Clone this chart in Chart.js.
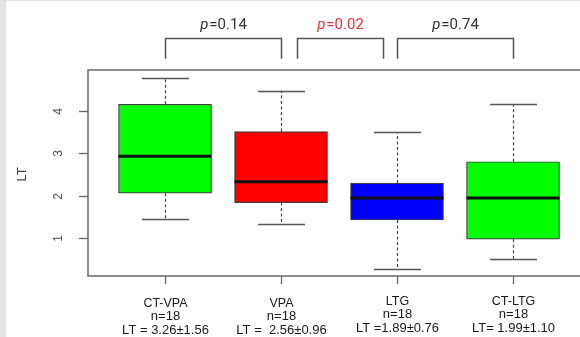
<!DOCTYPE html>
<html>
<head>
<meta charset="utf-8">
<script src="https://cdn.jsdelivr.net/npm/chart.js@4.4.1/dist/chart.umd.min.js"></script>
<style>
html,body{margin:0;padding:0;overflow:hidden;background:#fff;width:580px;height:337px;}
#wrap{position:relative;width:600px;height:337px;}
</style>
</head>
<body>
<div id="wrap"><canvas id="c" width="600" height="337"></canvas></div>
<script>
// ---- data ----
const categories = ['CT-VPA', 'VPA', 'LTG', 'CT-LTG'];
const nLabels = ['n=18', 'n=18', 'n=18', 'n=18'];
const ltLabels = ['LT = 3.26±1.56', 'LT =  2.56±0.96', 'LT =1.89±0.76', 'LT= 1.99±1.10'];
const whiskerLow = [1.45, 1.34, 0.29, 0.51];
const q1 = [2.06, 1.84, 1.43, 0.98];
const median = [2.93, 2.33, 1.95, 1.95];
const q3 = [4.15, 3.51, 2.30, 2.80];
const whiskerHigh = [4.76, 4.47, 3.49, 4.16];
const boxColors = ['#00ff00', '#ff0000', '#0000ff', '#00ff00'];
const yTicks = [1, 2, 3, 4];
const yTitle = 'LT';
const pValues = ['0.14', '0.02', '0.74'];
const pSignificant = [false, true, false];

const positions = categories.map((c, i) => i + 1);

// brackets (x spans in category units)
const bracketSpans = [[1, 2], [2.14, 2.88], [3, 4]];

const overlay = {
  id: 'overlay',
  beforeDraw(chart) {
    const ctx = chart.ctx;
    ctx.save();
    ctx.fillStyle = '#ffffff';
    ctx.fillRect(0, 0, chart.width, chart.height);
    ctx.fillStyle = '#e4e4e4';
    ctx.fillRect(0, 0, 6, chart.height);
    ctx.fillRect(0, 0, chart.width, 1);
    ctx.restore();
  },
  beforeDatasetsDraw(chart) {
    const ctx = chart.ctx, xs = chart.scales.x, ys = chart.scales.y;
    ctx.save();
    positions.forEach((p, i) => {
      const x = Math.round(xs.getPixelForValue(p)) + 0.5;
      ctx.strokeStyle = '#444';
      ctx.lineWidth = 1.2;
      ctx.setLineDash([3, 2.5]);
      ctx.beginPath();
      ctx.moveTo(x, ys.getPixelForValue(q3[i]));
      ctx.lineTo(x, ys.getPixelForValue(whiskerHigh[i]));
      ctx.moveTo(x, ys.getPixelForValue(q1[i]));
      ctx.lineTo(x, ys.getPixelForValue(whiskerLow[i]));
      ctx.stroke();
      ctx.setLineDash([]);
      ctx.strokeStyle = '#555';
      ctx.lineWidth = 1.5;
      const half = 23.5;
      ctx.beginPath();
      [whiskerHigh[i], whiskerLow[i]].forEach(v => {
        const y = Math.round(ys.getPixelForValue(v)) + 0.5;
        ctx.moveTo(x - half, y);
        ctx.lineTo(x + half, y);
      });
      ctx.stroke();
    });
    ctx.restore();
  },
  afterDatasetsDraw(chart) {
    const ctx = chart.ctx, xs = chart.scales.x, ys = chart.scales.y;
    const a = chart.chartArea;
    ctx.save();
    // medians
    ctx.strokeStyle = '#111';
    ctx.lineWidth = 3;
    positions.forEach((p, i) => {
      const x = xs.getPixelForValue(p);
      const y = ys.getPixelForValue(median[i]);
      ctx.beginPath();
      ctx.moveTo(x - 46.5, y);
      ctx.lineTo(x + 46.5, y);
      ctx.stroke();
    });
    // frame
    ctx.strokeStyle = '#6a6a6a';
    ctx.lineWidth = 1.5;
    ctx.strokeRect(a.left, a.top, a.right - a.left, a.bottom - a.top);
    // y ticks
    ctx.lineWidth = 1.3;
    ctx.strokeStyle = '#666';
    ctx.fillStyle = '#555';
    ctx.font = '12px "Liberation Sans", Arial, sans-serif';
    ctx.textAlign = 'center';
    ctx.textBaseline = 'middle';
    yTicks.forEach(t => {
      const y = Math.round(ys.getPixelForValue(t)) + 0.5;
      ctx.beginPath();
      ctx.moveTo(a.left, y);
      ctx.lineTo(a.left - 9, y);
      ctx.stroke();
      ctx.save();
      ctx.translate(59, y);
      ctx.rotate(-Math.PI / 2);
      ctx.fillText(String(t), 0, 0);
      ctx.restore();
    });
    // y title
    ctx.save();
    ctx.fillStyle = '#444';
    ctx.font = '13px "Liberation Sans", Arial, sans-serif';
    ctx.translate(22, (ys.getPixelForValue(2) + ys.getPixelForValue(3)) / 2);
    ctx.rotate(-Math.PI / 2);
    ctx.fillText(yTitle, 0, 0);
    ctx.restore();
    // x ticks + labels
    ctx.fillStyle = '#1a1a1a';
    positions.forEach((p, i) => {
      const x = Math.round(xs.getPixelForValue(p)) + 0.5;
      ctx.strokeStyle = '#666';
      ctx.beginPath();
      ctx.moveTo(x, a.bottom);
      ctx.lineTo(x, a.bottom + 8);
      ctx.stroke();
      const dy = i >= 2 ? -2 : 0;
      ctx.font = '12.5px "Liberation Sans", Arial, sans-serif';
      ctx.fillText(categories[i], x, 304 + dy);
      ctx.font = '13px "Liberation Sans", Arial, sans-serif';
      ctx.fillText(nLabels[i], x, 316 + dy);
      ctx.font = '13px "Liberation Sans", Arial, sans-serif';
      ctx.fillText(ltLabels[i], x, 330 + dy);
    });
    // brackets
    const yTop = Math.round(ys.getPixelForValue(5.70)) + 0.5;
    const yLeg = ys.getPixelForValue(5.22);
    bracketSpans.forEach((s, i) => {
      const x0 = Math.round(xs.getPixelForValue(s[0])) + 0.5;
      const x1 = Math.round(xs.getPixelForValue(s[1])) + 0.5;
      ctx.strokeStyle = '#555';
      ctx.lineWidth = 1.5;
      ctx.beginPath();
      ctx.moveTo(x0, yLeg);
      ctx.lineTo(x0, yTop);
      ctx.lineTo(x1, yTop);
      ctx.lineTo(x1, yLeg);
      ctx.stroke();
      const col = pSignificant[i] ? '#e0313f' : '#333';
      ctx.fillStyle = col;
      ctx.textBaseline = 'alphabetic';
      ctx.font = 'italic 15px Roboto, "Liberation Sans", sans-serif';
      const pw = ctx.measureText('p').width;
      ctx.font = '15px Roboto, "Liberation Sans", sans-serif';
      const rest = '=' + pValues[i];
      const rw = ctx.measureText(rest).width;
      const gap = 1;
      const tot = pw + gap + rw;
      const cx = (x0 + x1) / 2;
      const bx = cx - tot / 2;
      ctx.textAlign = 'left';
      ctx.font = 'italic 15px Roboto, "Liberation Sans", sans-serif';
      ctx.fillText('p', bx, 29);
      ctx.font = '15px Roboto, "Liberation Sans", sans-serif';
      ctx.fillText(rest, bx + pw + gap, 29);
      ctx.textAlign = 'center';
    });
    ctx.restore();
  }
};

new Chart(document.getElementById('c'), {
  type: 'bar',
  data: {
    datasets: [{
      data: positions.map((p, i) => ({ x: p, y: [q1[i], q3[i]] })),
      backgroundColor: boxColors,
      borderColor: 'rgba(0,0,0,0.75)',
      borderWidth: 1.2,
      borderSkipped: false,
      barThickness: 93
    }]
  },
  options: {
    responsive: false,
    animation: false,
    events: [],
    layout: { padding: { top: 70, right: 11, left: 0, bottom: 0 } },
    plugins: { legend: { display: false }, tooltip: { enabled: false } },
    scales: {
      x: {
        type: 'linear',
        offset: false,
        min: 0.336,
        max: 4.655,
        ticks: { display: false },
        grid: { display: false, offset: false },
        border: { display: false },
        afterFit(s) { s.height = 61; }
      },
      y: {
        type: 'linear',
        min: 0.114,
        max: 4.957,
        ticks: { display: false },
        grid: { display: false },
        border: { display: false },
        afterBuildTicks(s) { s.ticks = yTicks.map(v => ({ value: v })); },
        afterFit(s) { s.width = 88; }
      }
    }
  },
  plugins: [overlay]
});
</script>
</body>
</html>
